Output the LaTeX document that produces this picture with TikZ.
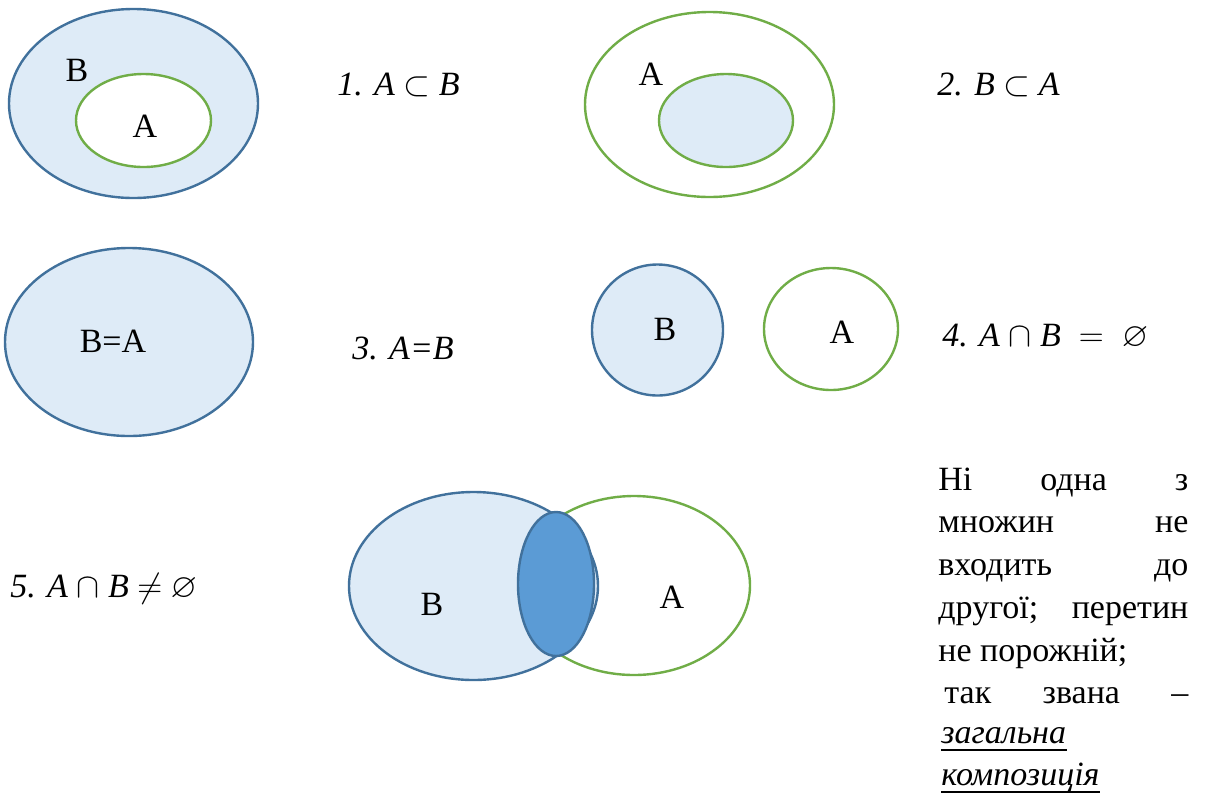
\documentclass[tikz,border=0pt]{standalone}
\usepackage{amssymb}
\usepackage{fontspec}
\setmainfont{Liberation Serif}
\usepackage{tikz}
\usepackage{xcolor}

\definecolor{setfill}{HTML}{DEEBF7}
\definecolor{setblue}{HTML}{41719C}
\definecolor{setgreen}{HTML}{70AD47}
\definecolor{capblue}{HTML}{5B9BD5}

\tikzset{
  setB/.style={draw=setblue, fill=setfill, line width=1.2pt},
  setA/.style={draw=setgreen, line width=1.2pt},
  lbl/.style={inner sep=0pt, font=\fontsize{17}{20}\selectfont},
  rel/.style={anchor=base west, inner sep=0pt, font=\fontsize{17}{20}\selectfont\itshape},
  para/.style={anchor=base west, inner sep=0pt, font=\fontsize{17}{20}\selectfont},
  uline/.style={line width=0.6pt},
}

\begin{document}
\begin{tikzpicture}[x=0.5pt, y=-0.5pt]
  \useasboundingbox (0,0) rectangle (1215,794);

  % ---------- 1: A inside B ----------
  \draw[setB] (133.5,103.5) ellipse [x radius=124.5, y radius=94.5];
  \draw[setA, fill=white] (143.5,120.5) ellipse [x radius=67.5, y radius=46.5];
  \node[lbl] (b1) at (77,70) {B};
  \node[lbl] (a1) at (145,126) {A};
  \node[rel] (r1) at (337,95) {1. A $\subset$ B};

  % ---------- 2: B inside A ----------
  \draw[setA] (709.5,104.5) ellipse [x radius=124.5, y radius=92.5];
  \draw[setA, fill=setfill] (726,120.5) ellipse [x radius=67, y radius=46.5];
  \node[lbl] (a2) at (651,74) {A};
  \node[rel] (r2) at (937,95) {2. B $\subset$ A};

  % ---------- 3: equal sets ----------
  \draw[setB] (129,342) ellipse [x radius=124, y radius=94];
  \node[lbl] (ba3) at (113,341) {B=A};
  \node[rel] (r3) at (352,359) {3. A=B};

  % ---------- 4: disjoint ----------
  \draw[setB] (657.5,330) circle [radius=65.5];
  \draw[setA] (831,329) ellipse [x radius=67, y radius=61];
  \node[lbl] (b4) at (665,329) {B};
  \node[lbl] (a4) at (842,332) {A};
  \node[rel] (r4) at (942,346) {4. A $\cap$ B $\;=\;$ $\varnothing$};

  % ---------- 5: general position ----------
  \draw[setA, fill=white] (634,585.5) ellipse [x radius=116, y radius=89.5];
  \draw[setB] (473.5,586) ellipse [x radius=124.5, y radius=94];
  \draw[draw=setblue, fill=capblue, line width=1.2pt] (556,584) ellipse [x radius=38, y radius=72];
  \node[lbl] (b5) at (432,604) {B};
  \node[lbl] (a5) at (672,597) {A};
  \node[rel] (r5) at (10,597) {5. A $\cap$ B $\neq$ $\varnothing$};

  % text at the right, justified by hand
  \node[para] (t1) at (938,490) {\hbox to 125pt{Ні\hfill одна\hfill з}};
  \node[para] (t2) at (938,532) {\hbox to 125pt{множин\hfill не}};
  \node[para] (t3) at (938,575) {\hbox to 125pt{входить\hfill до}};
  \node[para] (t4) at (938,618) {\hbox to 125pt{другої;\hfill перетин}};
  \node[para] (t5) at (938,661) {не порожній;};
  \node[para] (t6) at (944,703) {\hbox to 122pt{так\hfill звана\hfill –}};
  \node[para] (t7) at (941,743) {\textit{загальна}};
  \node[para] (t8) at (941,785) {\textit{композиція}};
  \draw[uline] ([yshift=-3.5pt]t7.base west) -- ([yshift=-3.5pt]t7.base east);
  \draw[uline] ([yshift=-3.5pt]t8.base west) -- ([yshift=-3.5pt]t8.base east);
\end{tikzpicture}
\end{document}
